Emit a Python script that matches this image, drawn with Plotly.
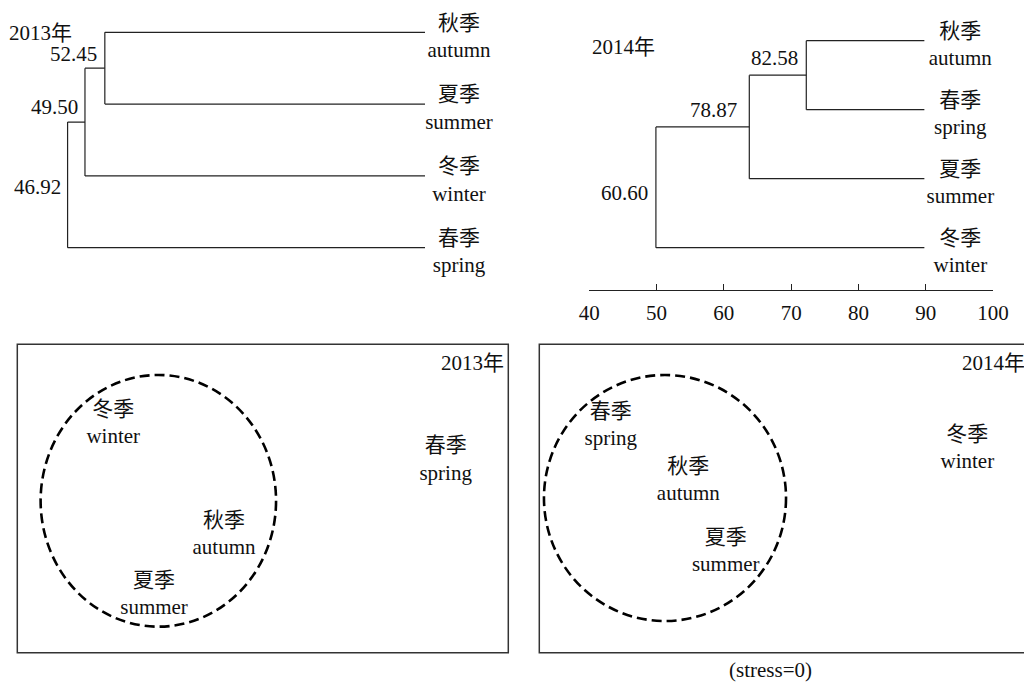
import plotly.graph_objects as go

W, H = 1024, 682

# ---------------- data ----------------
# 2013 dendrogram
leaves_cn_2013 = ["秋季", "夏季", "冬季", "春季"]
leaves_en_2013 = ["autumn", "summer", "winter", "spring"]
merges_2013 = [(0, 1), (4, 2), (5, 3)]
heights_2013 = [52.45, 49.50, 46.92]
node_labels_2013 = ["52.45", "49.50", "46.92"]
leaf_end_2013 = 100

# 2014 dendrogram (positions as drawn on the similarity axis)
leaves_cn_2014 = ["秋季", "春季", "夏季", "冬季"]
leaves_en_2014 = ["autumn", "spring", "summer", "winter"]
merges_2014 = [(0, 1), (4, 2), (5, 3)]
heights_2014 = [72.25, 63.78, 49.9]
node_labels_2014 = ["82.58", "78.87", "60.60"]
leaf_end_2014 = 89.8
axis_ticks = [40, 50, 60, 70, 80, 90, 100]

# NMDS 2013
nmds_cn_2013 = ["冬季", "春季", "秋季", "夏季"]
nmds_en_2013 = ["winter", "spring", "autumn", "summer"]
nmds_x_2013 = [-1.218, 1.490, -0.316, -0.886]
nmds_y_2013 = [0.607, 0.308, -0.297, -0.789]
ellipse_2013 = [-0.851, -0.019, 0.959, 1.025]   # cx, cy, rx, ry

# NMDS 2014
nmds_cn_2014 = ["春季", "秋季", "夏季", "冬季"]
nmds_en_2014 = ["spring", "autumn", "summer", "winter"]
nmds_x_2014 = [-1.418, -0.786, -0.481, 1.487]
nmds_y_2014 = [0.588, 0.140, -0.438, 0.401]
ellipse_2014 = [-0.976, 0.004, 0.986, 1.002]

# ---------------- helpers ----------------
FONT = "Liberation Serif, Times New Roman, Noto Sans CJK SC, serif"
FS = 21
LINE = "#222222"


def px(x):
    return min(max(x / W, 0.0), 1.0)


def py(y):
    return min(max(1 - y / H, 0.0), 1.0)


def dendro(merges, heights, leaf_end, n):
    node_x = [leaf_end] * n
    node_y = list(range(n))
    xs, ys = [], []
    for (a, b), h in zip(merges, heights):
        for c in (a, b):
            xs += [node_x[c], h, None]
            ys += [node_y[c], node_y[c], None]
        xs += [h, h, None]
        ys += [node_y[a], node_y[b], None]
        node_x.append(h)
        node_y.append((node_y[a] + node_y[b]) / 2)
    return xs, ys


fig = go.Figure()

# dendrogram lines
x13, y13 = dendro(merges_2013, heights_2013, leaf_end_2013, len(leaves_cn_2013))
fig.add_trace(go.Scatter(x=x13, y=y13, mode="lines", line=dict(color=LINE, width=1.2),
                         xaxis="x", yaxis="y", hoverinfo="skip"))
x14, y14 = dendro(merges_2014, heights_2014, leaf_end_2014, len(leaves_cn_2014))
fig.add_trace(go.Scatter(x=x14, y=y14, mode="lines", line=dict(color=LINE, width=1.2),
                         xaxis="x2", yaxis="y2", hoverinfo="skip"))

tf = dict(size=FS, color="#111", family=FONT)

# leaf labels
fig.add_trace(go.Scatter(
    x=[105.05] * 4, y=[i + 0.08 for i in range(4)], mode="text",
    text=[c + "<br>" + e for c, e in zip(leaves_cn_2013, leaves_en_2013)],
    textposition="middle center", textfont=tf,
    cliponaxis=False, xaxis="x", yaxis="y", hoverinfo="skip"))
fig.add_trace(go.Scatter(
    x=[95.14] * 4, y=[i + 0.08 for i in range(4)], mode="text",
    text=[c + "<br>" + e for c, e in zip(leaves_cn_2014, leaves_en_2014)],
    textposition="middle center", textfont=tf,
    cliponaxis=False, xaxis="x2", yaxis="y2", hoverinfo="skip"))

# NMDS labels
fig.add_trace(go.Scatter(
    x=nmds_x_2013, y=nmds_y_2013, mode="text",
    text=[c + "<br>" + e for c, e in zip(nmds_cn_2013, nmds_en_2013)],
    textposition="middle center", textfont=tf,
    cliponaxis=False, xaxis="x3", yaxis="y3", hoverinfo="skip"))
fig.add_trace(go.Scatter(
    x=nmds_x_2014, y=nmds_y_2014, mode="text",
    text=[c + "<br>" + e for c, e in zip(nmds_cn_2014, nmds_en_2014)],
    textposition="middle center", textfont=tf,
    cliponaxis=False, xaxis="x4", yaxis="y4", hoverinfo="skip"))

hidden = dict(visible=False, showgrid=False, zeroline=False, automargin=False)

# pixel scales for dendrogram axes
s13x = 404 / 60.0       # px per similarity unit
s13y = (247.7 - 32.3) / 3
s14y = (247.7 - 40.7) / 3
x4_span = (W - 539.3) / 491 * 4

fig.update_layout(
    width=W, height=H, margin=dict(l=0, r=0, t=0, b=0, pad=0, autoexpand=False),
    autosize=False,
    paper_bgcolor="white", plot_bgcolor="rgba(0,0,0,0)",
    showlegend=False,
    font=dict(family=FONT, size=FS, color="#111"),
    xaxis=dict(domain=[px(21), px(21 + 80 * s13x)], range=[40, 120], anchor="y", **hidden),
    yaxis=dict(domain=[py(247.7 + 0.5 * s13y), py(32.3 - 0.44 * s13y)], range=[3.5, -0.44],
               anchor="x", **hidden),
    xaxis2=dict(domain=[px(589.3), px(993)], range=[40, 100], anchor="free",
                position=py(290), showgrid=False, zeroline=False, automargin=False,
                showline=True, linecolor=LINE, linewidth=1.2,
                ticks="inside", ticklen=6, tickwidth=1.2, tickcolor=LINE,
                ticklabelstandoff=4,
                tickvals=axis_ticks, tickfont=dict(size=FS, family=FONT, color="#111")),
    yaxis2=dict(domain=[py(247.7 + 0.4 * s14y), py(40.7 - 0.5 * s14y)], range=[3.4, -0.5],
                anchor="x2", **hidden),
    xaxis3=dict(domain=[px(17.3), px(508.3)], range=[-2, 2], anchor="y3", **hidden),
    yaxis3=dict(domain=[py(652.7), py(344.3)], range=[-1.256, 1.256], anchor="x3", **hidden),
    xaxis4=dict(domain=[px(539.3), 1.0], range=[-2, -2 + x4_span], anchor="y4", **hidden),
    yaxis4=dict(domain=[py(652.7), py(344.3)], range=[-1.256, 1.256], anchor="x4", **hidden),
)

shapes = []
# boxes
shapes.append(dict(type="rect", xref="paper", yref="paper",
                   x0=px(17.3), x1=px(508.3), y0=py(652.7), y1=py(344.3),
                   line=dict(color="#333", width=1.5)))
shapes.append(dict(type="rect", xref="paper", yref="paper",
                   x0=px(539.3), x1=1031 / W, y0=py(652.7), y1=py(344.3),
                   line=dict(color="#333", width=1.5)))
# dashed ellipses
for (cx, cy, rx, ry), xa, ya in [(ellipse_2013, "x3", "y3"), (ellipse_2014, "x4", "y4")]:
    shapes.append(dict(type="circle", xref=xa, yref=ya,
                       x0=cx - rx, x1=cx + rx, y0=cy - ry, y1=cy + ry,
                       line=dict(color="black", width=2.6, dash="10px,5px")))
fig.update_layout(shapes=shapes)

ann = []
# node labels
for h, t, yy, sh in zip(heights_2013, node_labels_2013, [0.306, 1.036, 2.150], [-6, -5, -5]):
    ann.append(dict(x=h, y=yy, xref="x", yref="y", text=t, showarrow=False,
                    xanchor="right", yanchor="middle", xshift=sh, font=tf))
for h, t, yy, sh in zip(heights_2014, node_labels_2014, [0.255, 1.004, 2.2], [-6, -10, -6]):
    ann.append(dict(x=h, y=yy, xref="x2", yref="y2", text=t, showarrow=False,
                    xanchor="right", yanchor="middle", xshift=sh, font=tf))
# year labels and stress
ann.append(dict(x=px(7), y=py(33.3), xref="paper", yref="paper", text="2013年",
                showarrow=False, xanchor="left", yanchor="middle", font=tf))
ann.append(dict(x=px(590), y=py(46.7), xref="paper", yref="paper", text="2014年",
                showarrow=False, xanchor="left", yanchor="middle", font=tf))
ann.append(dict(x=px(506), y=py(363.3), xref="paper", yref="paper", text="2013年",
                showarrow=False, xanchor="right", yanchor="middle", font=tf))
ann.append(dict(x=px(960), y=py(363.3), xref="paper", yref="paper", text="2014年",
                showarrow=False, xanchor="left", yanchor="middle", font=tf))
ann.append(dict(x=px(770), y=py(670), xref="paper", yref="paper", text="(stress=0)",
                showarrow=False, xanchor="center", yanchor="middle", font=tf))
fig.update_layout(annotations=ann)

fig.write_html(
    "out.html",
    config={"responsive": False, "displayModeBar": False},
    post_script="document.body.style.margin='0';document.body.style.overflow='hidden';",
)
